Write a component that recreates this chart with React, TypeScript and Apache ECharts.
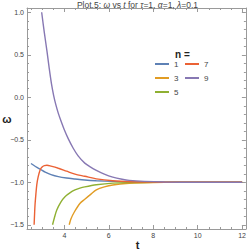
import React, { useEffect, useRef } from "react";
import * as echarts from "echarts";

const nValues = ["1", "3", "5", "7", "9"];
const colors = ["#5E81B5", "#E19C24", "#8FB032", "#EB6235", "#8778B3"];

const curveN1: [number, number][] = [
  [2.5, -0.78], [2.7, -0.815], [2.92, -0.847], [3.14, -0.882], [3.4, -0.91],
  [3.73, -0.934], [4.1, -0.95], [4.48, -0.961], [4.92, -0.973], [5.44, -0.982],
  [6.18, -0.99], [7.0, -0.995], [8.0, -0.998], [9.0, -0.999], [10.0, -1.0], [11.0, -1.0], [12.0, -1.0],
];
const curveN3: [number, number][] = [
  [4.22, -1.5], [4.3, -1.43], [4.45, -1.35], [4.7, -1.25], [4.92, -1.2], [5.2, -1.14],
  [5.44, -1.09], [5.8, -1.055], [6.18, -1.032], [6.92, -1.012], [7.5, -1.006],
  [8.5, -1.002], [10.0, -1.0], [12.0, -1.0],
];
const curveN5: [number, number][] = [
  [3.47, -1.5], [3.55, -1.42], [3.66, -1.326], [3.85, -1.23], [4.03, -1.17], [4.25, -1.125],
  [4.48, -1.091], [4.7, -1.07], [4.92, -1.055], [5.44, -1.03], [6.18, -1.01], [7.0, -1.004],
  [8.0, -1.001], [10.0, -1.0], [12.0, -1.0],
];
const curveN7: [number, number][] = [
  [2.64, -1.5], [2.66, -1.38], [2.68, -1.27], [2.72, -1.14], [2.76, -1.03], [2.82, -0.94],
  [2.91, -0.855], [3.0, -0.82], [3.1, -0.805], [3.22, -0.8], [3.4, -0.81], [3.73, -0.835],
  [4.1, -0.87], [4.48, -0.905], [4.92, -0.93], [5.44, -0.96], [6.18, -0.983], [7.0, -0.994],
  [8.0, -0.998], [9.0, -1.0], [12.0, -1.0],
];
const curveN9: [number, number][] = [
  [2.98, 1.0], [3.1, 0.76], [3.22, 0.54], [3.32, 0.34], [3.42, 0.16], [3.52, 0.02],
  [3.62, -0.09], [3.73, -0.19], [3.85, -0.28], [3.98, -0.37], [4.18, -0.49], [4.4, -0.6],
  [4.62, -0.69], [4.92, -0.775], [5.2, -0.825], [5.44, -0.86], [5.8, -0.905], [6.18, -0.94],
  [6.6, -0.965], [6.92, -0.978], [7.6, -0.99], [8.5, -0.997], [10.0, -1.0], [12.0, -1.0],
];
const curves = [curveN1, curveN3, curveN5, curveN7, curveN9];

const xMajor = [4, 6, 8, 10, 12];
const xMinor = [2.5, 3, 3.5, 4.5, 5, 5.5, 6.5, 7, 7.5, 8.5, 9, 9.5, 10.5, 11, 11.5];
const yMajor = [-1.5, -1.0, -0.5, 0.0, 0.5, 1.0];
const yMinor = [-1.4, -1.3, -1.2, -1.1, -0.9, -0.8, -0.7, -0.6, -0.4, -0.3, -0.2, -0.1,
  0.1, 0.2, 0.3, 0.4, 0.6, 0.7, 0.8, 0.9];

const X_MIN = 2.32, X_MAX = 12.17, Y_MIN = -1.55, Y_MAX = 1.05;
const FRAME = "#9a9a9a";
const LABEL = "#444";

export default function App() {
  const ref = useRef<HTMLDivElement>(null);
  useEffect(() => {
    if (!ref.current) return;
    const chart = echarts.init(ref.current, undefined, { renderer: "svg" });
    const baseX = (pos: "bottom" | "top", major: boolean, labels: boolean) => ({
      type: "value", position: pos, min: X_MIN, max: X_MAX,
      axisLine: { show: major, onZero: false, lineStyle: { color: FRAME, width: 1 } },
      axisTick: { show: true, inside: true, length: major ? 4 : 2, customValues: major ? xMajor : xMinor, lineStyle: { color: FRAME } },
      axisLabel: { show: labels, customValues: xMajor, fontSize: 7, color: LABEL, margin: 3, fontFamily: "Liberation Sans", formatter: (v: number) => String(v) },
      splitLine: { show: false },
    });
    const baseY = (pos: "left" | "right", major: boolean, labels: boolean) => ({
      type: "value", position: pos, min: Y_MIN, max: Y_MAX,
      axisLine: { show: major, onZero: false, lineStyle: { color: FRAME, width: 1 } },
      axisTick: { show: true, inside: true, length: major ? 4 : 2, customValues: major ? yMajor : yMinor, lineStyle: { color: FRAME } },
      axisLabel: { show: labels, customValues: yMajor, fontSize: 7, color: LABEL, margin: 3, fontFamily: "Liberation Sans",
        formatter: (v: number) => v.toFixed(1).replace("-", "\u2212") },
      splitLine: { show: false },
    });
    const legendCommon = {
      orient: "vertical", top: 59, itemWidth: 14, itemHeight: 2, itemGap: 4, padding: 0,
      icon: "rect", textStyle: { fontSize: 8, lineHeight: 10, color: LABEL, fontFamily: "Liberation Sans" },
    };
    chart.setOption({
      animation: false,
      backgroundColor: "#fff",
      title: {
        text: "Plot.5: {i|\u03c9} vs {i|t} for {i|\u03c4}=1, {i|\u03b1}=1, {i|\u03bb}=0.1",
        left: 137.5, top: 0, textAlign: "center", padding: 0,
        textStyle: { fontSize: 8.5, fontWeight: "normal", color: "#444", fontFamily: "Liberation Sans",
          rich: { i: { fontStyle: "italic", fontSize: 8.5, color: "#444", fontFamily: "Liberation Sans" } } },
      },
      grid: { left: 27, right: 1, top: 8, bottom: 23, containLabel: false },
      xAxis: [baseX("bottom", true, true), baseX("bottom", false, false), baseX("top", true, false), baseX("top", false, false)],
      yAxis: [baseY("left", true, true), baseY("left", false, false), baseY("right", true, false), baseY("right", false, false)],
      legend: [
        { ...legendCommon, data: ["1", "3", "5"], left: 155 },
        { ...legendCommon, data: ["7", "9"], left: 185 },
      ],
      graphic: [
        { type: "text", x: 175, y: 54, style: { text: "n =", font: "bold 10px Liberation Sans", fill: "#222", verticalAlign: "middle" } },
        { type: "text", x: 7, y: 118.5, style: { text: "\u03c9", font: "bold 11px Liberation Sans", fill: "#222", align: "center", verticalAlign: "middle" } },
        { type: "text", x: 137.5, y: 245, style: { text: "t", font: "bold 11px Liberation Sans", fill: "#222", align: "center", verticalAlign: "middle" } },
      ],
      series: nValues.map((n, i) => ({
        name: n, type: "line", data: curves[i], smooth: 0.3, showSymbol: false, symbol: "none",
        xAxisIndex: 0, yAxisIndex: 0, clip: true,
        lineStyle: { color: colors[i], width: 1.4 }, itemStyle: { color: colors[i] },
      })),
    });
    return () => chart.dispose();
  }, []);
  return <div ref={ref} style={{ width: 249, height: 252, position: "absolute", left: 0, top: 0 }} />;
}
